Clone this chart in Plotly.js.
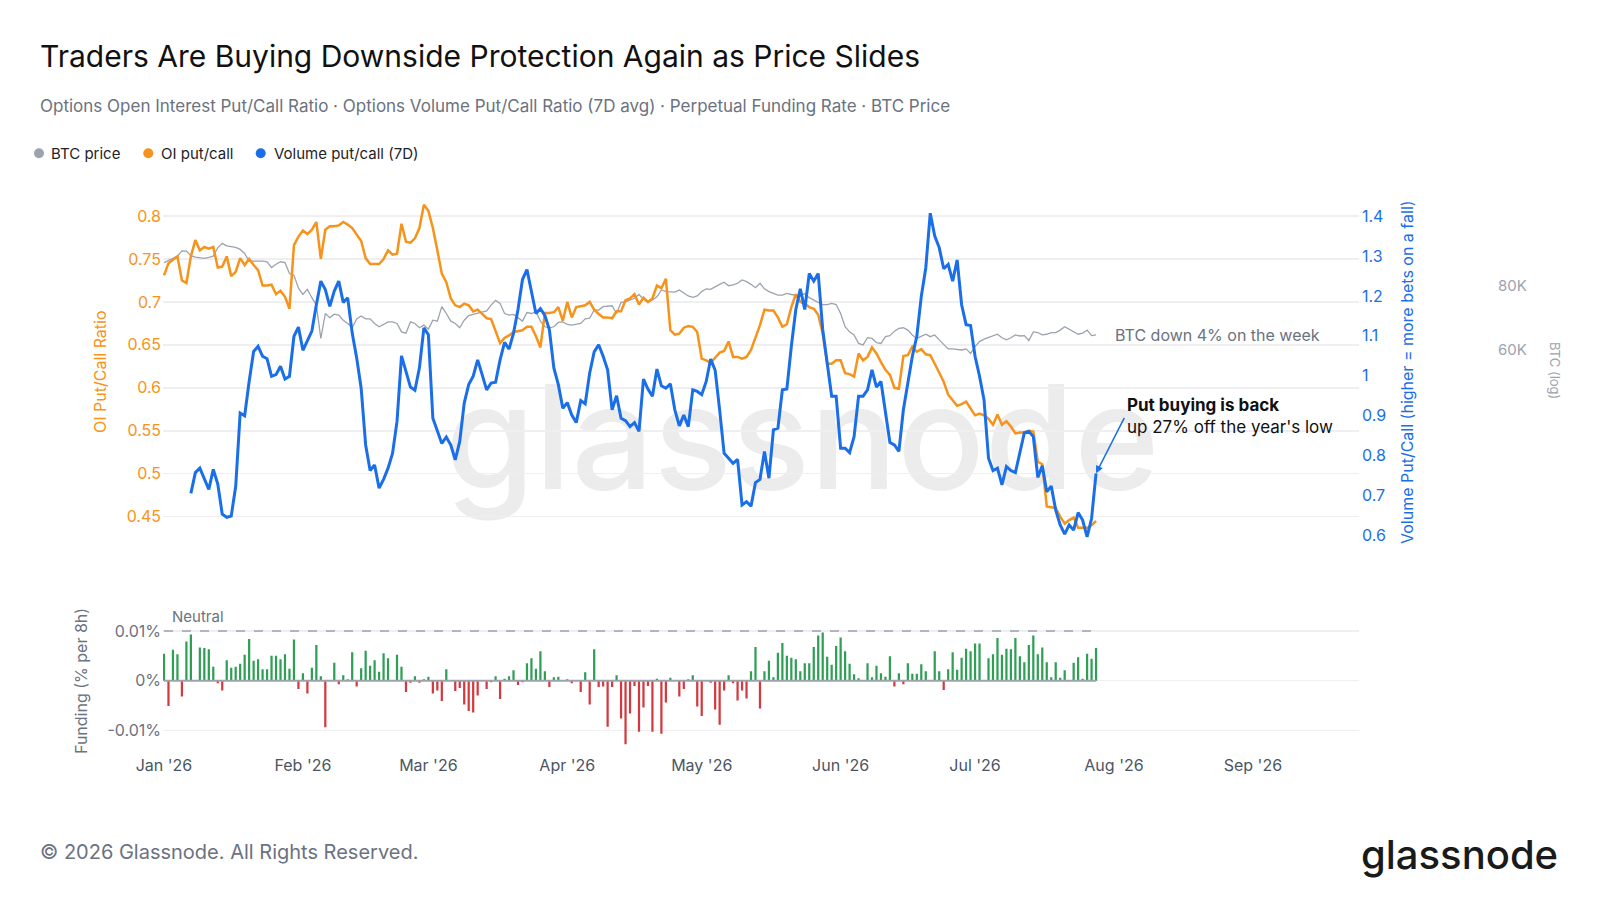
<!DOCTYPE html>
<html><head><meta charset="utf-8">
<script src="https://cdn.plot.ly/plotly-3.0.1.min.js"></script>
<style>
html,body{margin:0;padding:0;background:#fff;}
#wrap{position:relative;width:1600px;height:900px;overflow:hidden;background:#fff;}
#wm{position:absolute;left:445px;top:364px;font-family:Inter,sans-serif;font-size:145px;line-height:145px;font-weight:500;color:#ececec;white-space:nowrap;}
#chart{position:absolute;left:0;top:0;width:1600px;height:900px;}
</style></head><body>
<div id="wrap"><div id="wm">glassnode</div><div id="chart"></div></div>
<script>
// ---------- DATA (daily, starting 2026-01-01) ----------
const startDate = '2026-01-01';

const oiPutCall = [
0.731,0.745,0.749,0.753,0.725,0.722,0.753,0.772,0.760,0.764,
0.762,0.764,0.740,0.741,0.753,0.730,0.735,0.751,0.743,0.750,
0.743,0.737,0.719,0.719,0.720,0.709,0.713,0.706,0.692,0.766,
0.776,0.783,0.779,0.784,0.793,0.750,0.784,0.788,0.788,0.789,
0.793,0.790,0.786,0.779,0.771,0.751,0.744,0.744,0.744,0.750,
0.760,0.755,0.756,0.791,0.770,0.769,0.774,0.786,0.813,0.806,
0.786,0.760,0.733,0.723,0.704,0.696,0.694,0.698,0.696,0.689,
0.691,0.686,0.681,0.680,0.667,0.652,0.658,0.661,0.665,0.666,
0.667,0.671,0.671,0.660,0.647,0.687,0.687,0.688,0.694,0.678,
0.700,0.682,0.694,0.695,0.696,0.700,0.691,0.686,0.682,0.682,
0.681,0.689,0.689,0.702,0.704,0.709,0.697,0.705,0.700,0.704,
0.719,0.716,0.727,0.667,0.662,0.663,0.670,0.672,0.671,0.665,
0.634,0.632,0.629,0.635,0.641,0.643,0.654,0.636,0.636,0.634,
0.636,0.644,0.658,0.673,0.691,0.690,0.690,0.682,0.671,0.674,
0.694,0.709,0.700,0.698,0.694,0.692,0.685,0.663,0.628,0.628,
0.632,0.632,0.617,0.616,0.613,0.640,0.632,0.636,0.647,0.640,
0.630,0.621,0.615,0.600,0.599,0.637,0.638,0.648,0.642,0.645,
0.639,0.638,0.628,0.617,0.607,0.592,0.586,0.579,0.581,0.584,
0.576,0.568,0.570,0.568,0.564,0.557,0.569,0.557,0.561,0.555,
0.547,0.548,0.548,0.550,0.549,0.514,0.511,0.462,0.461,0.460,
0.450,0.442,0.446,0.449,0.437,0.437,0.437,0.440,0.445
];

const volPutCall7d = [
null,null,null,null,null,null,0.706,0.758,0.769,0.741,
0.716,0.766,0.729,0.654,0.646,0.649,0.723,0.907,0.900,0.986,
1.061,1.074,1.049,1.043,0.999,1.003,1.024,0.992,0.999,1.099,
1.122,1.064,1.086,1.112,1.178,1.237,1.216,1.174,1.212,1.237,
1.184,1.195,1.107,1.045,0.969,0.827,0.763,0.777,0.719,0.741,
0.769,0.806,0.886,1.050,1.011,0.972,0.964,1.020,1.120,1.103,
0.894,0.865,0.831,0.847,0.827,0.790,0.836,0.932,0.978,0.999,
1.040,1.003,0.965,0.982,0.984,1.040,1.084,1.067,1.107,1.166,
1.241,1.266,1.208,1.156,1.168,1.151,1.116,1.020,0.978,0.919,
0.933,0.902,0.883,0.938,0.930,1.007,1.060,1.078,1.049,1.015,
0.915,0.950,0.894,0.888,0.873,0.883,0.861,0.992,0.967,0.949,
1.017,0.975,0.969,0.980,0.915,0.875,0.902,0.873,0.965,0.961,
0.953,0.986,1.042,1.014,0.915,0.806,0.794,0.781,0.791,0.677,
0.685,0.674,0.733,0.741,0.811,0.744,0.865,0.869,0.965,0.967,
1.074,1.166,1.218,1.166,1.256,1.237,1.256,1.116,1.032,0.949,
0.949,0.819,0.819,0.808,0.848,0.949,0.949,0.965,1.015,0.972,
0.986,0.907,0.833,0.827,0.811,0.915,0.986,1.049,1.099,1.199,
1.270,1.407,1.350,1.321,1.268,1.279,1.237,1.290,1.178,1.128,
1.126,1.049,0.999,0.940,0.794,0.763,0.769,0.727,0.773,0.763,
0.758,0.811,0.858,0.861,0.848,0.746,0.775,0.710,0.724,0.664,
0.627,0.604,0.627,0.614,0.658,0.639,0.597,0.643,0.756
];

const btcPriceK = [
88.9,89.9,90.6,91.5,93.7,93.6,91.7,91.1,90.9,90.6,
91.0,91.5,95.0,96.9,95.8,95.5,95.2,94.3,92.6,89.5,
89.6,89.6,89.5,89.2,86.9,88.2,89.2,88.9,84.6,84.0,
79.2,77.0,78.8,75.9,73.4,63.2,70.7,69.4,70.5,70.2,
68.6,67.6,66.3,69.0,69.9,69.0,69.0,67.6,66.6,67.3,
68.1,68.1,67.6,65.1,64.7,68.1,67.6,66.3,67.1,65.9,
68.6,68.3,72.9,70.7,68.3,67.6,66.3,68.6,70.0,70.4,
70.7,71.0,71.5,73.4,75.0,74.0,70.7,70.2,70.4,69.4,
68.3,71.0,70.7,71.3,68.3,66.6,66.3,66.6,67.9,68.1,
67.3,67.1,67.3,67.6,69.0,69.2,71.8,71.8,72.9,73.1,
73.2,70.7,74.3,74.5,75.1,75.7,77.0,75.4,74.3,75.1,
76.2,78.6,78.0,77.8,77.8,78.6,77.4,76.5,76.0,76.5,
78.0,79.0,78.8,79.8,80.6,81.4,80.1,80.4,81.0,82.2,
81.6,80.6,79.4,81.0,79.0,78.0,77.4,76.8,76.8,77.4,
77.0,76.8,76.5,77.3,75.9,75.1,74.3,73.6,73.6,74.0,
73.6,70.7,66.6,65.1,64.2,61.8,61.4,63.4,63.2,62.0,
61.8,63.7,64.0,65.3,66.1,66.3,65.6,64.2,63.2,63.7,
64.4,63.7,64.2,62.8,61.6,60.3,60.3,60.2,60.0,60.3,
59.1,60.9,62.3,63.0,63.4,64.0,64.4,63.4,62.8,63.4,
64.2,63.9,64.0,62.6,65.1,64.9,64.2,64.4,64.9,64.9,
65.6,66.6,65.9,65.3,64.4,64.7,65.6,64.0,64.2
];

const fundingRatePct = [
0.0054,-0.0051,0.0062,0.0053,-0.0032,0.0079,0.0093,0,0.0067,0.0066,
0.0063,0.0028,-0.0005,-0.0020,0.0041,0.0026,0.0028,0.0034,0.0052,0.0084,
0.0040,0.0043,0.0023,0.0023,0.0050,0.0050,0.0043,0.0053,0.0024,0.0083,
-0.0017,0.0015,-0.0026,0.0026,0.0072,0.0009,-0.0094,0,0.0036,-0.0007,
0.0011,0.0003,0.0057,-0.0012,0.0025,0.0060,0.0030,0.0041,0.0018,0.0055,
0.0045,0,0.0052,0.0028,-0.0023,-0.0004,0.0009,-0.0004,0.0003,0.0008,
-0.0026,-0.0020,-0.0041,0.0023,0,-0.0021,-0.0015,-0.0048,-0.0061,-0.0064,
-0.0030,0,-0.0017,-0.0003,0.0009,-0.0037,0.0004,0.0009,0.0021,-0.0009,
-0.0003,0.0035,0.0045,0.0024,0.0059,0.0019,-0.0013,0.0007,0.0008,0,
0.0003,-0.0005,0,-0.0023,0.0017,-0.0048,0.0063,-0.0013,-0.0012,-0.0093,
-0.0013,0.0011,-0.0076,-0.0128,-0.0066,-0.0011,-0.0103,-0.0054,-0.0011,-0.0103,
0.0004,-0.0107,-0.0044,0.0006,0,-0.0032,-0.0017,0.0003,0.0011,-0.0052,
-0.0071,0,-0.0004,-0.0058,-0.0089,-0.0020,0.0011,-0.0005,-0.0040,-0.0020,
-0.0036,0.0019,0.0068,-0.0056,0.0019,0.0040,0.0007,0.0056,0.0076,0.0050,
0.0046,0.0043,0.0019,0.0035,0.0035,0.0068,0.0091,0.0097,0.0048,0.0032,
0.0070,0.0087,0.0059,0.0034,0.0013,0.0005,0,0.0035,0.0007,0.0030,
0.0015,0.0008,0.0049,-0.0012,0.0015,-0.0007,0.0035,0.0014,0.0014,0.0033,
0.0019,0.0001,0.0059,0.0019,-0.0019,0.0023,0.0057,0.0022,0.0046,0.0064,
0.0059,0.0075,0.0075,0,0.0045,0.0053,0.0086,0.0052,0.0064,0.0063,
0.0086,0.0049,0.0037,0.0072,0.0091,0.0053,0.0067,0.0037,0.0007,0.0037,
0.0006,0.0021,0.0001,0.0036,0.0047,0.0004,0.0054,0.0044,0.0066
];

const neutralFunding = 0.01;

const monthTickDates = ['2026-01-01','2026-02-01','2026-03-01','2026-04-01','2026-05-01','2026-06-01','2026-07-01','2026-08-01','2026-09-01'];
const monthTickLabels = ["Jan '26","Feb '26","Mar '26","Apr '26","May '26","Jun '26","Jul '26","Aug '26","Sep '26"];
const oiTickVals = [0.45,0.5,0.55,0.6,0.65,0.7,0.75,0.8];
const oiTickLabels = ['0.45','0.5','0.55','0.6','0.65','0.7','0.75','0.8'];
const volTickVals = [0.6,0.7,0.8,0.9,1.0,1.1,1.2,1.3,1.4];
const volTickLabels = ['0.6','0.7','0.8','0.9','1','1.1','1.2','1.3','1.4'];
const btcTickVals = [60,80];
const btcTickLabels = ['60K','80K'];
const fundTickVals = [-0.01,0,0.01];
const fundTickLabels = ['-0.01%','0%','0.01%'];

// ---------- build ----------
const dates = oiPutCall.map((_, i) => {
  const [y, m, d] = startDate.split('-').map(Number);
  return new Date(Date.UTC(y, m - 1, d + i)).toISOString().slice(0, 10);
});
const lastDate = dates[dates.length - 1];

const ORANGE = '#f7931a', BLUE = '#1a6fe8', GRAY = '#9ca3af', TXT = '#6b7280';
const GREEN = '#2e9f55', RED = '#d23a3f';
const W = 1600, H = 900;
const px = x => x / W, py = y => 1 - y / H;

const traces = [
  {x: dates, y: btcPriceK, xaxis: 'x', yaxis: 'y', type: 'scatter', mode: 'lines',
   line: {color: GRAY, width: 1.3}, name: 'BTC price', hoverinfo: 'skip'},
  {x: dates, y: oiPutCall, xaxis: 'x', yaxis: 'y2', type: 'scatter', mode: 'lines',
   line: {color: ORANGE, width: 2.5}, name: 'OI put/call', hoverinfo: 'skip'},
  {x: dates, y: volPutCall7d, xaxis: 'x', yaxis: 'y3', type: 'scatter', mode: 'lines',
   line: {color: BLUE, width: 3}, name: 'Volume put/call (7D)', hoverinfo: 'skip'},
  {x: dates, y: fundingRatePct, xaxis: 'x2', yaxis: 'y4', type: 'bar',
   marker: {color: fundingRatePct.map(v => v >= 0 ? GREEN : RED)}, hoverinfo: 'skip'},
  {x: [dates[0], lastDate], y: [0, 0], xaxis: 'x2', yaxis: 'y4', type: 'scatter', mode: 'lines',
   line: {color: GRAY, width: 2}, hoverinfo: 'skip'},
  {x: [dates[0], lastDate], y: [neutralFunding, neutralFunding], xaxis: 'x2', yaxis: 'y4', type: 'scatter', mode: 'lines',
   line: {color: GRAY, width: 1.6, dash: '9px,9px'}, hoverinfo: 'skip'}
];

const xRange = ['2025-12-31 18:40', '2026-09-24 16:20'];
const xDom = [px(163), px(1359)];
const mainDom = [py(540), py(195)];
const tickFont = (c) => ({family: 'Inter, sans-serif', size: 16, color: c});

const layout = {
  width: W, height: H, margin: {l: 0, r: 0, t: 0, b: 0},
  paper_bgcolor: 'rgba(0,0,0,0)', plot_bgcolor: 'rgba(0,0,0,0)',
  font: {family: 'Inter, sans-serif', color: TXT},
  showlegend: false, bargap: 0.5,
  xaxis: {domain: xDom, range: xRange, type: 'date', anchor: 'y2', showticklabels: false,
          showgrid: false, zeroline: false, showline: false, ticks: ''},
  xaxis2: {domain: xDom, range: xRange, type: 'date', anchor: 'y4', matches: 'x',
           tickvals: monthTickDates, ticktext: monthTickLabels, tickfont: tickFont('#4b5563'),
           showgrid: false, zeroline: false, showline: false, ticks: '', ticklabelstandoff: 8},
  yaxis: {domain: mainDom, type: 'log', range: [Math.log10(80) - (540 - 286) / 512.2, Math.log10(80) + (286 - 195) / 512.2],
          anchor: 'free', position: px(1497), side: 'right',
          tickvals: btcTickVals, ticktext: btcTickLabels, tickfont: {family: 'Inter, sans-serif', size: 15, color: GRAY},
          showgrid: false, zeroline: false, showline: false, ticks: ''},
  yaxis2: {domain: mainDom, overlaying: 'y', side: 'left', anchor: 'x',
           range: [0.45 - (540 - 516.7) / 859, 0.8 + (216 - 195) / 859],
           tickvals: oiTickVals, ticktext: oiTickLabels, tickfont: tickFont(ORANGE),
           showgrid: true, gridcolor: '#efeff1', gridwidth: 1.5, zeroline: false, showline: false, ticks: '', ticklabelstandoff: 1},
  yaxis3: {domain: mainDom, overlaying: 'y', side: 'right', anchor: 'x',
           range: [0.6 - (540 - 535.7) / 399.6, 1.4 + (216 - 195) / 399.6],
           tickvals: volTickVals, ticktext: volTickLabels, tickfont: tickFont(BLUE),
           showgrid: false, zeroline: false, showline: false, ticks: '', ticklabelstandoff: 2},
  yaxis4: {domain: [py(746), py(623.5)], anchor: 'x2',
           range: [-0.01 - (746 - 730.3) / 4970, 0.01 + (631 - 623.5) / 4970],
           tickvals: fundTickVals, ticktext: fundTickLabels, tickfont: tickFont(TXT),
           showgrid: true, gridcolor: '#efeff1', gridwidth: 1.5, zeroline: false, showline: false, ticks: '', ticklabelstandoff: 1},
  shapes: [
    {type: 'circle', xref: 'paper', yref: 'paper', x0: px(34), x1: px(44), y0: py(158.3), y1: py(148.3), fillcolor: GRAY, line: {width: 0}},
    {type: 'circle', xref: 'paper', yref: 'paper', x0: px(143.3), x1: px(153.3), y0: py(158.3), y1: py(148.3), fillcolor: ORANGE, line: {width: 0}},
    {type: 'circle', xref: 'paper', yref: 'paper', x0: px(255.7), x1: px(265.7), y0: py(158.3), y1: py(148.3), fillcolor: BLUE, line: {width: 0}}
  ],
  annotations: [
    {text: 'Traders Are Buying Downside Protection Again as Price Slides', xref: 'paper', yref: 'paper', x: px(38), y: py(56),
     xanchor: 'left', yanchor: 'middle', showarrow: false, font: {size: 30, color: '#111111'}},
    {text: 'Options Open Interest Put/Call Ratio · Options Volume Put/Call Ratio (7D avg) · Perpetual Funding Rate · BTC Price',
     xref: 'paper', yref: 'paper', x: px(38), y: py(106), xanchor: 'left', yanchor: 'middle', showarrow: false, font: {size: 17, color: TXT}},
    {text: 'BTC price', xref: 'paper', yref: 'paper', x: px(49), y: py(153.3), xanchor: 'left', yanchor: 'middle', showarrow: false, font: {size: 15, color: '#1f2328'}},
    {text: 'OI put/call', xref: 'paper', yref: 'paper', x: px(158.5), y: py(153.3), xanchor: 'left', yanchor: 'middle', showarrow: false, font: {size: 15, color: '#1f2328'}},
    {text: 'Volume put/call (7D)', xref: 'paper', yref: 'paper', x: px(271.5), y: py(153.3), xanchor: 'left', yanchor: 'middle', showarrow: false, font: {size: 15, color: '#1f2328'}},
    {text: 'OI Put/Call Ratio', xref: 'paper', yref: 'paper', x: px(100), y: py(372), xanchor: 'center', yanchor: 'middle', textangle: -90, showarrow: false, font: {size: 16, color: ORANGE}},
    {text: 'Volume Put/Call (higher = more bets on a fall)', xref: 'paper', yref: 'paper', x: px(1407), y: py(372), xanchor: 'center', yanchor: 'middle', textangle: -90, showarrow: false, font: {size: 16, color: BLUE}},
    {text: 'BTC (log)', xref: 'paper', yref: 'paper', x: px(1555), y: py(370), xanchor: 'center', yanchor: 'middle', textangle: 90, showarrow: false, font: {size: 13, color: GRAY}},
    {text: 'Funding (% per 8h)', xref: 'paper', yref: 'paper', x: px(81), y: py(681), xanchor: 'center', yanchor: 'middle', textangle: -90, showarrow: false, font: {size: 16, color: TXT}},
    {text: 'Neutral', xref: 'paper', yref: 'paper', x: px(170), y: py(616), xanchor: 'left', yanchor: 'middle', showarrow: false, font: {size: 15, color: TXT}},
    {text: 'BTC down 4% on the week', xref: 'paper', yref: 'paper', x: px(1113), y: py(335), xanchor: 'left', yanchor: 'middle', showarrow: false, font: {size: 16, color: TXT}},
    {text: "<b>Put buying is back</b><br>up 27% off the year's low", xref: 'paper', yref: 'paper', x: px(1125), y: py(415.5), xanchor: 'left', yanchor: 'middle', align: 'left', showarrow: false, font: {size: 17, color: '#111111'}},
    {text: '', x: lastDate, y: volPutCall7d[volPutCall7d.length - 1], xref: 'x', yref: 'y3', showarrow: true,
     ax: 29, ay: -57, arrowhead: 2, arrowsize: 1, arrowwidth: 1.5, arrowcolor: BLUE},
    {text: '© 2026 Glassnode. All Rights Reserved.', xref: 'paper', yref: 'paper', x: px(38), y: py(852), xanchor: 'left', yanchor: 'middle', showarrow: false, font: {size: 20, color: TXT}},
    {text: 'glassnode', xref: 'paper', yref: 'paper', x: px(1560), y: py(854), xanchor: 'right', yanchor: 'middle', showarrow: false, font: {size: 40, color: '#1a1a1a', weight: 500}}
  ]
};

Plotly.newPlot('chart', traces, layout, {displayModeBar: false, staticPlot: true});
</script>
</body></html>
